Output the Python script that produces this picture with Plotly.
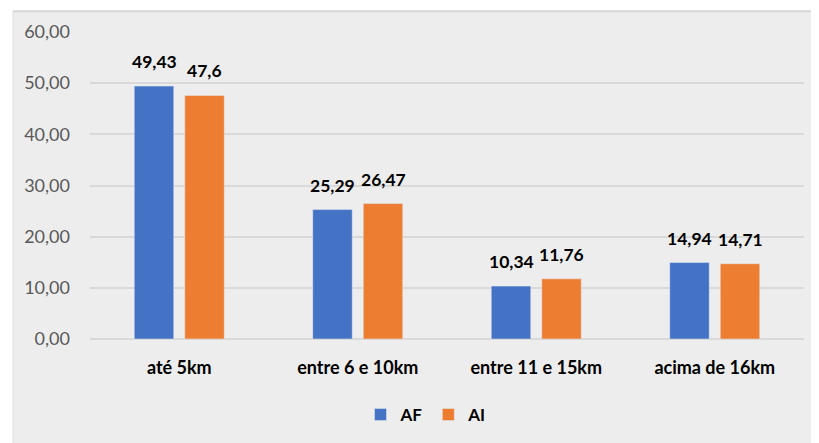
import plotly.graph_objects as go

categories = ["até 5km", "entre 6 e 10km", "entre 11 e 15km", "acima de 16km"]
af_values = [49.43, 25.29, 10.34, 14.94]
ai_values = [47.6, 26.47, 11.76, 14.71]
y_ticks = [0, 10, 20, 30, 40, 50, 60]

W, H = 819, 443
OFF = 8  # default page body margin
# plot area in page pixels: x 90..804, y 28..339
L, T = 90 - OFF, 28 - OFF
pw, ph = 714, 311
R = W - L - pw
B = H - T - ph

def px_x(p):
    return (p - OFF - L) / pw

def px_y(p):
    return (T + ph - (p - OFF)) / ph

def fmt(v):
    return str(v).replace(".", ",")

BLUE = "#4472C4"
ORANGE = "#ED7D31"
BG = "#EDEDED"
FONT = "Lato"

fig = go.Figure()
fig.add_trace(go.Bar(name="AF", x=categories, y=af_values, marker_color=BLUE))
fig.add_trace(go.Bar(name="AI", x=categories, y=ai_values, marker_color=ORANGE))

annotations = []
for vals, shift in ((af_values, -25.25), (ai_values, 25.25)):
    for c, v in zip(categories, vals):
        annotations.append(dict(
            x=c, y=v, xref="x", yref="y", text=fmt(v), showarrow=False,
            xshift=shift, yshift=12, yanchor="bottom",
            font=dict(family=FONT, size=17.5, color="#000000", weight="bold"),
        ))

fig.update_layout(
    width=W, height=H,
    margin=dict(l=L, r=R, t=T, b=B, pad=0),
    paper_bgcolor="#FFFFFF",
    plot_bgcolor=BG,
    barmode="group",
    bargap=0.434,
    bargroupgap=0.218,
    separators=",.",
    font=dict(family=FONT),
    annotations=annotations,
    shapes=[
        dict(type="rect", xref="paper", yref="paper", layer="below",
             x0=px_x(13), x1=px_x(W + 20), y0=px_y(H + 20), y1=px_y(7),
             fillcolor=BG, line=dict(width=0)),
        dict(type="line", xref="paper", yref="paper", layer="below",
             x0=px_x(13), x1=px_x(W + 20), y0=px_y(7), y1=px_y(7),
             line=dict(color="#D6D6D6", width=2)),
        dict(type="line", xref="paper", yref="paper", layer="below",
             x0=px_x(13), x1=px_x(13), y0=px_y(7), y1=px_y(H + 20),
             line=dict(color="#DEDEDE", width=1)),
    ],
    xaxis=dict(
        showgrid=False, showline=False, zeroline=False,
        ticks="", ticklabelstandoff=16,
        tickfont=dict(family=FONT, size=18, color="#000000", weight="bold"),
    ),
    yaxis=dict(
        range=[0, 60], tickvals=y_ticks, tickformat=".2f",
        showgrid=True, gridcolor="#D9D9D9", gridwidth=2,
        zeroline=True, zerolinecolor="#D9D9D9", zerolinewidth=2,
        showline=False, ticks="", ticklabelstandoff=19,
        tickfont=dict(family=FONT, size=18, color="#595959"),
    ),
    legend=dict(
        orientation="h", x=px_x(426), xanchor="center",
        y=px_y(416), yanchor="middle",
        font=dict(family=FONT, size=17, color="#000000", weight="bold"),
        bgcolor="rgba(0,0,0,0)", itemwidth=30,
    ),
)

fig.write_html("out.html")
